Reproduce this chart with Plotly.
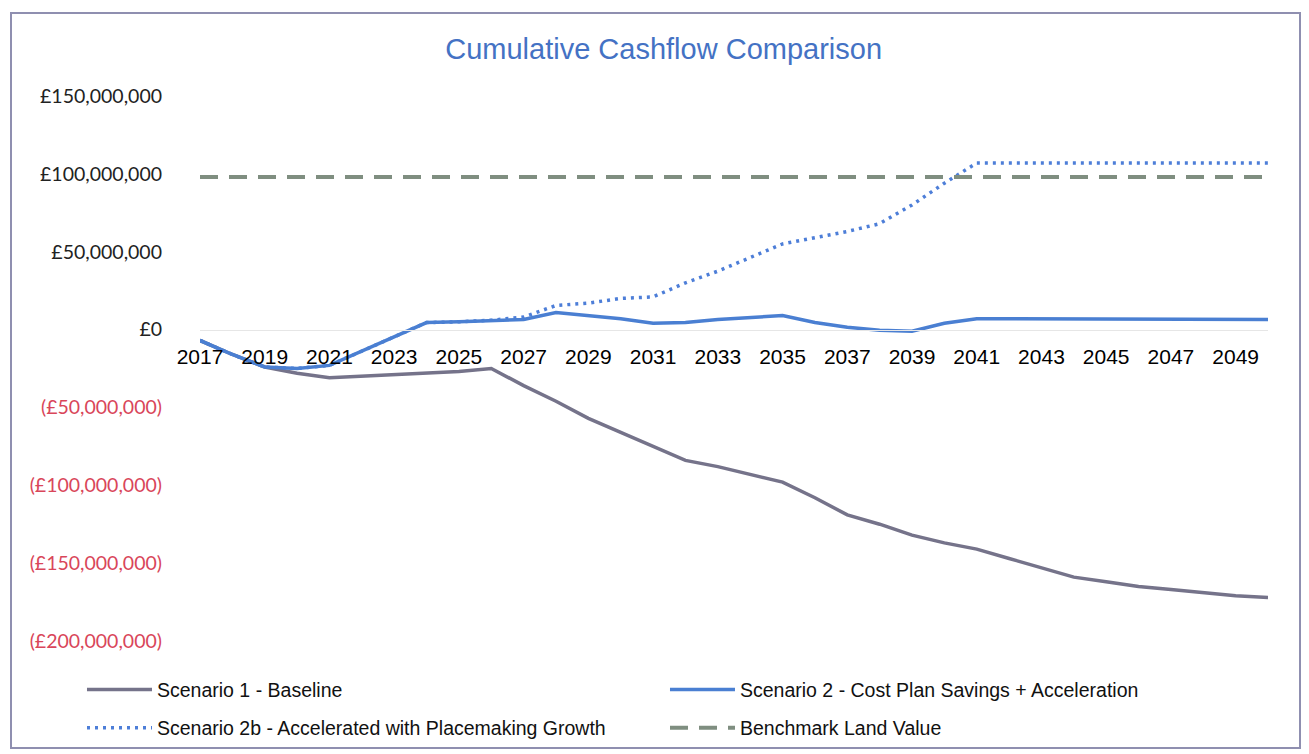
import plotly.graph_objects as go

years = list(range(2017, 2051))

# values in £ millions
scenario1 = [-7, -16, -24, -28, -31, -30, -29, -28, -27, -25,
             -36, -46, -57, -66, -75, -84, -88, -93, -98, -108,
             -119, -125, -132, -137, -141, -147, -153, -159, -162, -165,
             -167, -169, -171, -172]
scenario2 = [-7, -16, -24, -25, -23, -14, -5, 4.5, 5, 5.5,
             6.5, 11, 9, 7, 4, 4.5, 6.5, 8, 9, 4.5,
             1.5, -0.5, -1, 4, 7, 7, 7, 7, 6.5, 6.5,
             6.5, 6.5, 6.5, 6.5]
scenario2b = [-7, -16, -24, -25, -23, -14, -5, 4.5, 5, 6,
              8, 15.5, 17, 20, 21, 30, 37.5, 46, 55, 59,
              63, 68, 80, 94, 107, 107, 107, 107, 107, 107,
              107, 107, 107, 107]
benchmark = [98] * len(years)

names = ["Scenario 1 - Baseline",
         "Scenario 2 - Cost Plan Savings + Acceleration",
         "Scenario 2b - Accelerated with Placemaking Growth",
         "Benchmark Land Value"]

ytick_vals = [150, 100, 50, 0, -50, -100, -150, -200]

def fmt(v):
    if v > 0:
        return "£{:,.0f}".format(v * 1e6)
    if v == 0:
        return "£0"
    return '<span style="color:#d9465a">(£{:,.0f})</span>'.format(-v * 1e6)

ytick_text = [fmt(v) for v in ytick_vals]

fig = go.Figure()
fig.add_trace(go.Scatter(x=years, y=scenario1, name=names[0], mode="lines",
                         legend="legend",
                         line=dict(color="#75738a", width=3.5)))
fig.add_trace(go.Scatter(x=years, y=scenario2b, name=names[2], mode="lines",
                         legend="legend2",
                         line=dict(color="#4d7ed8", width=3.5, dash="3px,5px")))
fig.add_trace(go.Scatter(x=years, y=scenario2, name=names[1], mode="lines",
                         legend="legend",
                         line=dict(color="#4a7fd2", width=3.5)))
fig.add_trace(go.Scatter(x=years, y=benchmark, name=names[3], mode="lines",
                         legend="legend2",
                         line=dict(color="#7f8e80", width=4, dash="18px,11px")))

for tr in fig.data:
    tr.legendrank = names.index(tr.name)

ymin, ymax = -200, 150
zero_pos = (0 - ymin) / (ymax - ymin)

legend_common = dict(orientation="h", xanchor="left", yanchor="top",
                     font=dict(family="Liberation Sans, Arial", size=19.5, color="#111111"),
                     itemwidth=65, entrywidth=503, traceorder="normal",
                     bgcolor="rgba(0,0,0,0)")

fig.update_layout(
    width=1309, height=754,
    margin=dict(l=200, r=41, t=96, b=113, autoexpand=False),
    paper_bgcolor="white", plot_bgcolor="white",
    title=dict(text="Cumulative Cashflow Comparison", x=0.507, xref="container",
               xanchor="center", y=1 - 49 / 754, yanchor="middle",
               font=dict(family="Liberation Sans, Arial", size=29, color="#4472c4")),
    showlegend=True,
    legend=dict(x=-0.1105, y=-0.054, **legend_common),
    legend2=dict(x=-0.1105, y=-0.124, **legend_common),
    xaxis=dict(range=[2017, 2050], tick0=2017, dtick=2, anchor="free",
               position=zero_pos, showgrid=False, zeroline=False,
               showline=True, linecolor="#e6e6e6", linewidth=1,
               ticks="", ticklabelstandoff=8,
               tickfont=dict(family="Liberation Sans, Arial", size=21, color="#000000")),
    yaxis=dict(range=[ymin, ymax], tickvals=ytick_vals, ticktext=ytick_text,
               showgrid=False, zeroline=False, showline=False, ticks="",
               ticklabelstandoff=37,
               tickfont=dict(family="Lato, Carlito, sans-serif", size=19.5, color="#222222")),
)

fig.add_shape(type="rect", xref="paper", yref="paper",
              x0=(11 - 200) / 1068, x1=(1300 - 200) / 1068,
              y0=(641 - 748) / 545, y1=(641 - 13) / 545,
              line=dict(color="#8f8fb0", width=2), fillcolor="rgba(0,0,0,0)", layer="below")

fig.write_html("out.html")
